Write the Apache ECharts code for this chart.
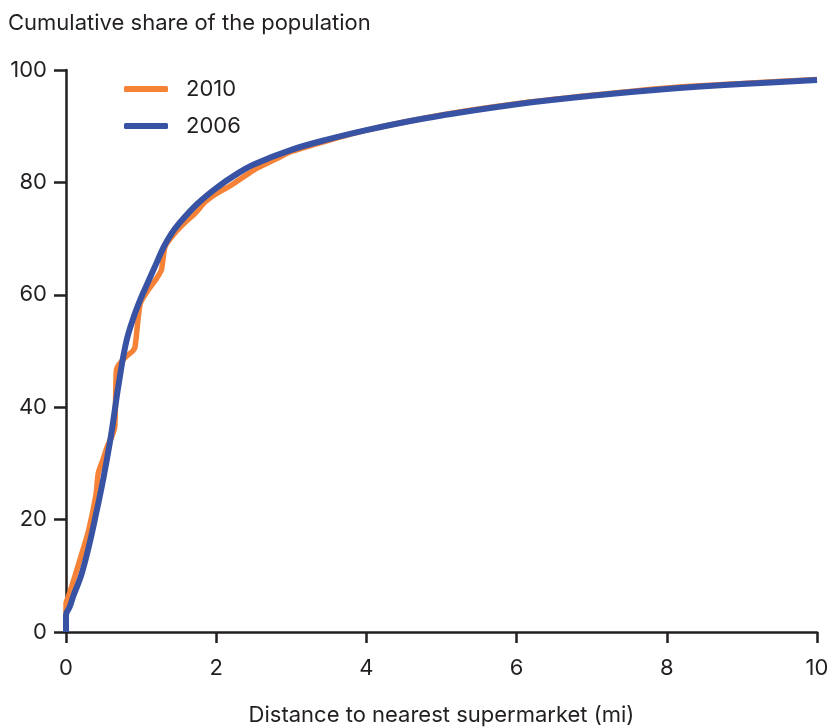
<!DOCTYPE html>
<html>
<head>
<meta charset="utf-8">
<script src="https://cdn.jsdelivr.net/npm/echarts@6/dist/echarts.min.js"></script>
<style>
  html, body { margin: 0; padding: 0; background: #fff; }
  #cht { width: 835px; height: 727px; }
</style>
</head>
<body>
<div id="cht"></div>
<script>
// distance (mi) / cumulative share (%)
var dist2006 = [0, 0, 0.05, 0.1, 0.2, 0.3, 0.4, 0.5, 0.6, 0.7, 0.8, 0.9, 1.0, 1.1, 1.2, 1.3, 1.4, 1.5, 1.75, 2, 2.25, 2.5, 3, 3.5, 4, 4.5, 5, 6, 7, 8, 9, 10];
var share2006 = [0, 3, 4.5, 6.5, 10, 15, 21, 27.5, 35, 44, 51.5, 56, 59.5, 62.5, 65.5, 68.5, 70.8, 72.6, 76.2, 79, 81.3, 83.2, 85.8, 87.7, 89.3, 90.7, 91.9, 93.9, 95.4, 96.6, 97.5, 98.2];

var dist2010 = [0, 0, 0.05, 0.12, 0.2, 0.3, 0.4, 0.43, 0.49, 0.55, 0.61, 0.65, 0.67, 0.7, 0.8, 0.89, 0.92, 0.99, 1.1, 1.19, 1.27, 1.32, 1.45, 1.58, 1.72, 1.85, 2.0, 2.2, 2.5, 2.8, 3, 3.5, 4, 5, 6, 7, 8, 9, 10];
var share2010 = [0, 5, 7, 10, 13.5, 18, 24.5, 28.3, 30.6, 33, 34.8, 36.5, 46.5, 47.5, 49, 50, 50.8, 58.5, 61, 62.6, 64.4, 68.6, 71, 72.8, 74.5, 76.5, 78, 79.5, 82.2, 84.2, 85.5, 87.5, 89.3, 92, 94, 95.5, 96.8, 97.6, 98.3];

var xTicks = [0, 2, 4, 6, 8, 10];
var yTicks = [0, 20, 40, 60, 80, 100];

function pairs(xs, ys) {
    var out = [];
    for (var i = 0; i < xs.length; i++) out.push([xs[i], ys[i]]);
    return out;
}

var font = "Inter, 'Liberation Sans', Arial, sans-serif";
var ink = "#231f20";
var fs = 22;

var config = {
    animation: false,
    title: {
        text: 'Cumulative share of the population',
        left: 3,
        top: 7,
        textStyle: { fontFamily: font, fontSize: fs, fontWeight: 'normal', color: ink }
    },
    legend: {
        orient: 'vertical',
        left: 119,
        top: 73,
        itemWidth: 44,
        itemHeight: 6,
        itemGap: 15,
        icon: 'roundRect',
        data: ['2010', '2006'],
        textStyle: { fontFamily: font, fontSize: fs, color: ink, padding: [0, 0, 0, 13] }
    },
    grid: { left: 66, right: 18, top: 70, bottom: 95, outerBoundsMode: 'none' },
    xAxis: {
        type: 'value',
        min: 0, max: 10, interval: 2,
        name: 'Distance to nearest supermarket (mi)',
        nameLocation: 'middle',
        nameGap: 72,
        nameTextStyle: { fontFamily: font, fontSize: fs, color: ink },
        axisLine: { lineStyle: { color: ink, width: 2.5 } },
        axisTick: { show: true, length: 11, lineStyle: { color: ink, width: 2.5 } },
        axisLabel: {
            margin: 25, fontFamily: font, fontSize: fs, color: ink,
            formatter: function (v) { return xTicks.indexOf(v) >= 0 ? String(v) : ''; }
        },
        splitLine: { show: false }
    },
    yAxis: {
        type: 'value',
        min: 0, max: 100, interval: 20,
        axisLine: { show: true, lineStyle: { color: ink, width: 2.5 } },
        axisTick: { show: true, length: 12, lineStyle: { color: ink, width: 2.5 } },
        axisLabel: {
            margin: 19, fontFamily: font, fontSize: fs, color: ink,
            formatter: function (v) { return yTicks.indexOf(v) >= 0 ? String(v) : ''; }
        },
        splitLine: { show: false }
    },
    series: [
        {
            name: '2010',
            type: 'line',
            showSymbol: false,
            smooth: 0.2,
            color: '#f58236',
            lineStyle: { width: 5.5, color: '#f58236' },
            data: pairs(dist2010, share2010)
        },
        {
            name: '2006',
            type: 'line',
            showSymbol: false,
            smooth: 0.4,
            color: '#3953a4',
            lineStyle: { width: 6, color: '#3953a4' },
            data: pairs(dist2006, share2006)
        }
    ]
};

window.onload = function () {
    var myChart = echarts.init(document.getElementById('cht'));
    myChart.setOption(config);
};
</script>
</body>
</html>
